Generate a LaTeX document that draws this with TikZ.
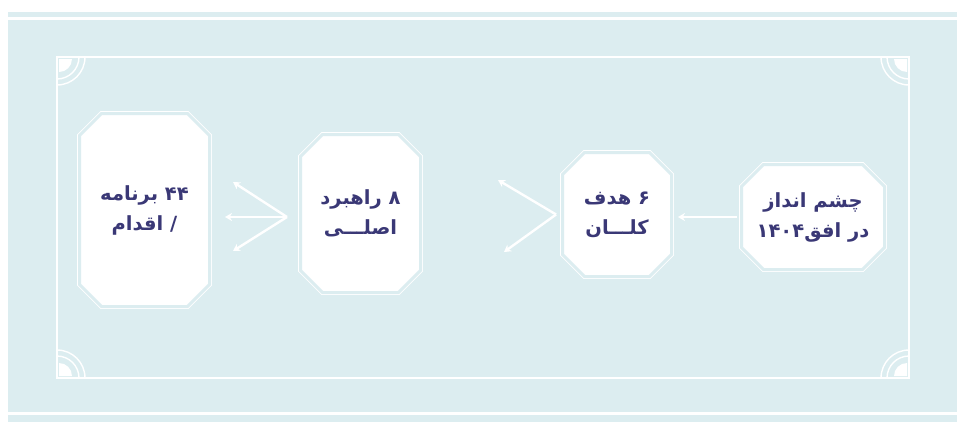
\documentclass[tikz,border=0pt]{standalone}
\usepackage{fontspec}
\newfontfamily\arabicfont[Script=Arabic]{DejaVu Sans}
\TeXXeTstate=1
\usetikzlibrary{arrows.meta,shapes.misc}
\definecolor{bandblue}{RGB}{220,237,240}
\definecolor{inkblue}{RGB}{58,56,118}

\begin{document}
\begin{tikzpicture}[x=1pt,y=-1pt,
    stagebox/.style={chamfered rectangle, chamfered rectangle xsep=11pt,
        chamfered rectangle ysep=11pt, draw=white, double=bandblue,
        double distance=3pt, line width=0.9pt, fill=white, inner sep=0pt,
        align=center, text=inkblue,
        font=\arabicfont\bfseries\fontsize{19.5}{30}\selectfont},
    flow/.style={draw=white, line width=2.4pt, -{Stealth[length=7pt,width=8pt]}},
    frameline/.style={draw=white, line width=1.4pt}]
            \useasboundingbox (0,0) rectangle (957,424);
            \fill[bandblue] (8,12) rectangle (957,422);
            \draw[white, line width=2.5pt] (8,18.5) -- (957,18.5);
            \draw[white, line width=2.5pt] (8,413.5) -- (957,413.5);
            \draw[frameline] (57,57) rectangle (909,378);
            \draw[frameline] (85,57) arc[start angle=0, end angle=90, radius=28];
            \draw[frameline] (79,57) arc[start angle=0, end angle=90, radius=22];
            \fill[white] (59,59) -- (72,59) arc[start angle=0, end angle=90, radius=13] -- cycle;
            \draw[frameline] (881,57) arc[start angle=180, end angle=90, radius=28];
            \draw[frameline] (887,57) arc[start angle=180, end angle=90, radius=22];
            \fill[white] (907,59) -- (894,59) arc[start angle=180, end angle=90, radius=13] -- cycle;
            \draw[frameline] (57,350) arc[start angle=270, end angle=360, radius=28];
            \draw[frameline] (57,356) arc[start angle=270, end angle=360, radius=22];
            \fill[white] (59,376) -- (59,363) arc[start angle=270, end angle=360, radius=13] -- cycle;
            \draw[frameline] (909,350) arc[start angle=270, end angle=180, radius=28];
            \draw[frameline] (909,356) arc[start angle=270, end angle=180, radius=22];
            \fill[white] (907,376) -- (907,363) arc[start angle=270, end angle=180, radius=13] -- cycle;
            \node[stagebox, minimum width=130pt, minimum height=193pt] (programs) at (144.5,210)
                {\beginR ۴۴ برنامه\endR\\\beginR / اقدام\endR};
            \node[stagebox, minimum width=120pt, minimum height=158pt] (strategies) at (360.5,213.5)
                {\beginR ۸ راهبرد\endR\\\beginR اصلـــی\endR};
            \node[stagebox, minimum width=109pt, minimum height=124pt] (goals) at (617,214.5)
                {\beginR ۶ هدف\endR\\\beginR کلـــان\endR};
            \node[stagebox, minimum width=143pt, minimum height=105pt] (vision) at (813,217)
                {\beginR چشم انداز\endR\\\beginR در افق\beginL ۱۴۰۴\endL\endR};
            \coordinate (fangoals) at ([xshift=-6pt]goals.west);
            \coordinate (fangoalsup) at (498,180);
            \coordinate (fangoalsdown) at (504,252);
            \coordinate (fanstrat) at (287,217);
            \coordinate (fanstratup) at (233,182);
            \coordinate (fanstratmid) at (225,217);
            \coordinate (fanstratdown) at (233,251);
            \draw[flow, shorten >=6pt] ([xshift=-4pt]vision.west) -- (goals.east |- vision.west);
            \draw[flow] (fangoals) -- (fangoalsup);
            \draw[flow] (fangoals) -- (fangoalsdown);
            \draw[flow] (fanstrat) -- (fanstratup);
            \draw[flow] (fanstrat) -- (fanstratmid);
            \draw[flow] (fanstrat) -- (fanstratdown);
        \end{tikzpicture}
\end{document}
